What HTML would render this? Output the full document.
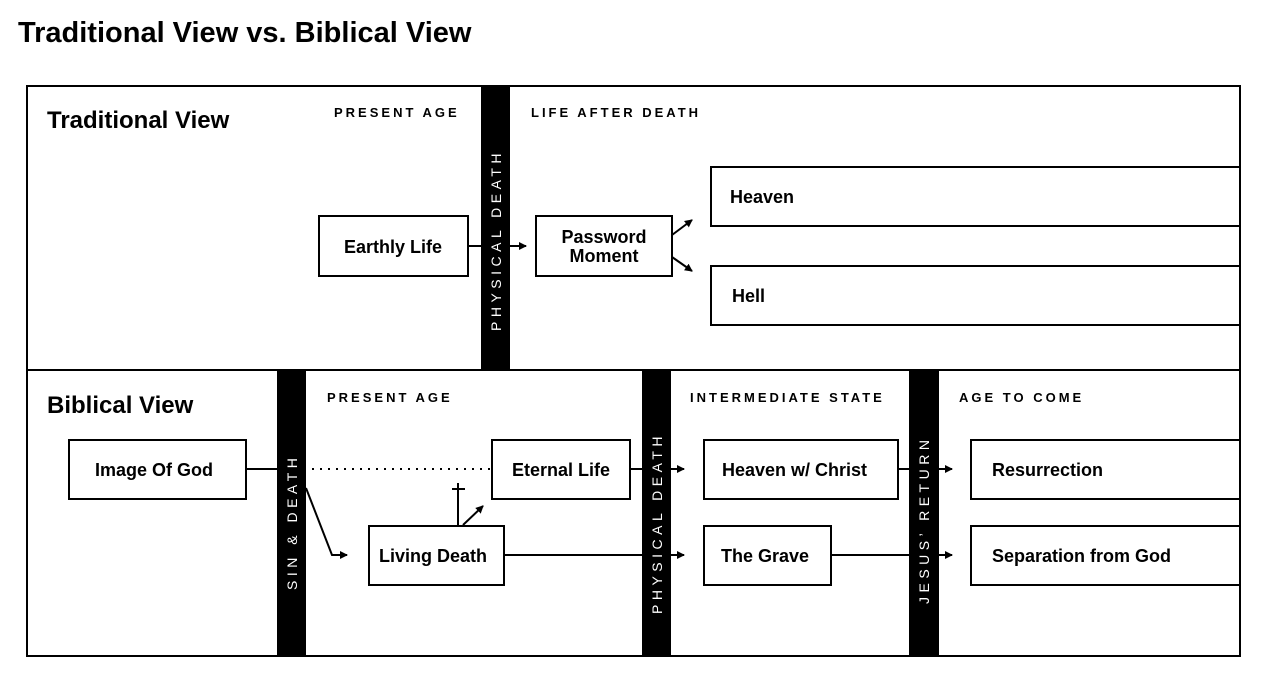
<!DOCTYPE html>
<html><head><meta charset="utf-8"><style>
html,body{margin:0;padding:0;background:#fff;}
svg text{font-family:"Liberation Sans",sans-serif;fill:#000;}
.t{font-size:18px;font-weight:600}
.h{font-size:13px;font-weight:bold;letter-spacing:3px}
.v{font-size:14px;fill:#fff;letter-spacing:4.5px}
.hd{font-size:24px;font-weight:bold}
</style></head><body>
<svg width="1280" height="685" viewBox="0 0 1280 685" xmlns="http://www.w3.org/2000/svg">
<defs><marker id="a" markerWidth="8" markerHeight="8" refX="7" refY="4" orient="auto" markerUnits="userSpaceOnUse"><path d="M0,0 L8,4 L0,8 z" fill="#000"/></marker></defs>
<text x="18" y="42" style="font-size:29px;font-weight:600">Traditional View vs. Biblical View</text>
<rect x="27" y="86" width="1213" height="570" fill="none" stroke="#000" stroke-width="2"/>
<line x1="27" y1="370" x2="1240" y2="370" stroke="#000" stroke-width="2"/>
<g fill="none" stroke="#000" stroke-width="2">
<rect x="319" y="216" width="149" height="60"/>
<rect x="536" y="216" width="136" height="60"/>
<rect x="711" y="167" width="529" height="59"/>
<rect x="711" y="266" width="529" height="59"/>
<rect x="69" y="440" width="177" height="59"/>
<rect x="492" y="440" width="138" height="59"/>
<rect x="704" y="440" width="194" height="59"/>
<rect x="971" y="440" width="269" height="59"/>
<rect x="369" y="526" width="135" height="59"/>
<rect x="704" y="526" width="127" height="59"/>
<rect x="971" y="526" width="269" height="59"/>
</g>
<rect x="481" y="86" width="29" height="284" fill="#000"/>
<rect x="277" y="370" width="29" height="286" fill="#000"/>
<rect x="642" y="370" width="29" height="286" fill="#000"/>
<rect x="909" y="370" width="30" height="286" fill="#000"/>
<g stroke="#000" stroke-width="2" fill="none">
<line x1="468" y1="246" x2="481" y2="246"/>
<line x1="510" y1="246" x2="526" y2="246" marker-end="url(#a)"/>
<line x1="672" y1="235" x2="692" y2="220" marker-end="url(#a)"/>
<line x1="672" y1="257" x2="692" y2="271" marker-end="url(#a)"/>
<line x1="246" y1="469" x2="277" y2="469"/>
<line x1="312" y1="469" x2="492" y2="469" stroke-dasharray="2,6"/>
<line x1="630" y1="469" x2="642" y2="469"/>
<line x1="671" y1="469" x2="684" y2="469" marker-end="url(#a)"/>
<line x1="898" y1="469" x2="909" y2="469"/>
<line x1="939" y1="469" x2="952" y2="469" marker-end="url(#a)"/>
<polyline points="306,488 332,555 347,555" marker-end="url(#a)"/>
<line x1="458" y1="526" x2="458" y2="483"/>
<line x1="452" y1="489" x2="465" y2="489"/>
<line x1="463" y1="525" x2="483" y2="506" marker-end="url(#a)"/>
<line x1="504" y1="555" x2="642" y2="555"/>
<line x1="671" y1="555" x2="684" y2="555" marker-end="url(#a)"/>
<line x1="831" y1="555" x2="909" y2="555"/>
<line x1="939" y1="555" x2="952" y2="555" marker-end="url(#a)"/>
</g>
<text x="47" y="128" class="hd">Traditional View</text>
<text x="47" y="413" class="hd">Biblical View</text>
<text x="334" y="117" class="h">PRESENT AGE</text>
<text x="531" y="117" class="h">LIFE AFTER DEATH</text>
<text x="327" y="402" class="h">PRESENT AGE</text>
<text x="690" y="402" class="h">INTERMEDIATE STATE</text>
<text x="959" y="402" class="h">AGE TO COME</text>
<text class="v" transform="translate(501,331) rotate(-90)">PHYSICAL DEATH</text>
<text class="v" transform="translate(297,590) rotate(-90)">SIN &amp; DEATH</text>
<text class="v" transform="translate(662,614) rotate(-90)">PHYSICAL DEATH</text>
<text class="v" transform="translate(929,604) rotate(-90)">JESUS’ RETURN</text>
<text x="344" y="253" class="t">Earthly Life</text>
<text x="604" y="243" class="t" text-anchor="middle">Password</text>
<text x="604" y="262" class="t" text-anchor="middle">Moment</text>
<text x="730" y="203" class="t">Heaven</text>
<text x="732" y="302" class="t">Hell</text>
<text x="95" y="476" class="t">Image Of God</text>
<text x="512" y="476" class="t">Eternal Life</text>
<text x="722" y="476" class="t">Heaven w/ Christ</text>
<text x="992" y="476" class="t">Resurrection</text>
<text x="379" y="562" class="t">Living Death</text>
<text x="721" y="562" class="t">The Grave</text>
<text x="992" y="562" class="t">Separation from God</text>
</svg>
</body></html>
